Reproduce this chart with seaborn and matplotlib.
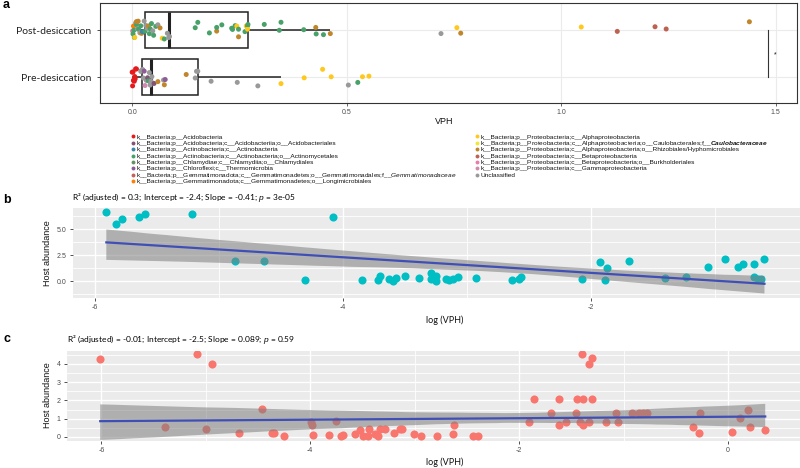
import numpy as np
import pandas as pd
import matplotlib
matplotlib.use("Agg")
import matplotlib.pyplot as plt
import seaborn as sns
from matplotlib.lines import Line2D
from matplotlib.collections import PolyCollection
from matplotlib.ticker import MultipleLocator, FormatStrFormatter

plt.rcParams['font.family'] = ['Liberation Sans', 'DejaVu Sans']
plt.rcParams['axes.unicode_minus'] = False
plt.rcParams['mathtext.fontset'] = 'custom'
plt.rcParams['mathtext.rm'] = 'Liberation Sans'
plt.rcParams['mathtext.it'] = 'Liberation Sans:italic'
plt.rcParams['mathtext.bf'] = 'Liberation Sans:italic:bold'

# ---------------- data ----------------
taxa = [
    "k__Bacteria;p__Acidobacteria",
    "k__Bacteria;p__Acidobacteria;c__Acidobacteriia;o__Acidobacteriales",
    "k__Bacteria;p__Actinobacteria;c__Actinobacteria",
    "k__Bacteria;p__Actinobacteria;c__Actinobacteria;o__Actinomycetales",
    "k__Bacteria;p__Chlamydiae;c__Chlamydiia;o__Chlamydiales",
    "k__Bacteria;p__Chloroflexi;c__Thermomicrobia",
    "k__Bacteria;p__Gemmatimonadota;c__Gemmatimonadetes;o__Gemmatimonadales;f__$\\it{Gemmatimonadaceae}$",
    "k__Bacteria;p__Gemmatimonadota;c__Gemmatimonadetes;o__Longimicrobiales",
    "k__Bacteria;p__Proteobacteria;c__Alphaproteobacteria",
    "k__Bacteria;p__Proteobacteria;c__Alphaproteobacteria;o__Caulobacterales;f__$\\bf{Caulobacteraceae}$",
    "k__Bacteria;p__Proteobacteria;c__Alphaproteobacteria;o__Rhizobiales/Hyphomicrobiales",
    "k__Bacteria;p__Proteobacteria;c__Betaproteobacteria",
    "k__Bacteria;p__Proteobacteria;c__Betaproteobacteria;o__Burkholderiales",
    "k__Bacteria;p__Proteobacteria;c__Gammaproteobacteria",
    "Unclassified",
]
taxa_colors = ["#E41A1C", "#815375", "#3A85A8", "#47A169", "#639363", "#8D5C96",
               "#C4635D", "#FF7F00", "#FFC81D", "#F2E731", "#C0862B", "#BD6253",
               "#EB7BAA", "#CF8BAF", "#999999"]

groups = ["Post-desiccation", "Pre-desiccation"]

post_vph = [0.001, 0.002, 0.003, 0.004, 0.005, 0.006, 0.008, 0.010, 0.010, 0.012, 0.014, 0.015,
            0.018, 0.020, 0.022, 0.024,
            0.028, 0.030, 0.032, 0.035, 0.038, 0.040, 0.042, 0.045, 0.048, 0.050, 0.055, 0.060,
            0.065, 0.070, 0.075, 0.082, 0.085, 0.087,
            0.147, 0.153, 0.180, 0.197, 0.197, 0.209, 0.232, 0.234, 0.240, 0.244, 0.248, 0.248,
            0.263, 0.266, 0.269, 0.269, 0.270,
            0.308, 0.343, 0.347, 0.400, 0.428, 0.429, 0.446, 0.462, 0.720, 0.757, 0.766, 1.047,
            1.131, 1.219, 1.245, 1.439]
post_taxon = [12, 3, 7, 3, 3, 8, 14, 3, 10, 14, 10, 3,
              14, 3, 10, 2,
              14, 3, 14, 14, 10, 3, 3, 3, 14, 3, 3, 14,
              10, 8, 3, 14, 14, 14,
              3, 3, 3, 10, 3, 3, 3, 3, 3, 8, 3, 10,
              3, 8, 3, 8, 3,
              3, 3, 3, 3, 10, 3, 3, 10, 14, 8, 10, 8,
              11, 11, 11, 10]

pre_vph = [0.000, 0.001, 0.002, 0.003, 0.004, 0.005, 0.006, 0.007, 0.008, 0.010,
           0.020, 0.022, 0.024, 0.025, 0.026, 0.028, 0.030, 0.033, 0.036, 0.038, 0.040, 0.042,
           0.043, 0.044,
           0.046, 0.051, 0.060, 0.073, 0.075, 0.077, 0.126, 0.147, 0.150, 0.153,
           0.184, 0.245, 0.293, 0.347, 0.401, 0.444, 0.464, 0.504, 0.526, 0.537, 0.552]
pre_taxon = [0, 0, 0, 0, 0, 0, 0, 0, 0, 0,
             14, 14, 14, 14, 14, 5, 13, 14, 1, 3, 14, 14,
             14, 14,
             14, 1, 10, 14, 10, 5, 10, 14, 14, 14,
             14, 14, 14, 8, 8, 8, 8, 14, 3, 8, 8]

b_log_vph = [-5.911, -5.831, -5.782, -5.651, -5.599, -5.220, -4.871, -4.635, -4.306, -4.083,
             -3.850, -3.720, -3.700, -3.627, -3.600, -3.573, -3.500, -3.385, -3.293, -3.293,
             -3.250, -3.250, -3.169, -3.143, -3.115, -3.070, -2.927, -2.635, -2.577, -2.566,
             -2.070, -1.922, -1.881, -1.865, -1.690, -1.403, -1.228, -1.056, -0.914, -0.812,
             -0.772, -0.685, -0.597, -0.685, -0.650, -0.624]
b_host = [6.60, 5.45, 5.99, 6.15, 6.41, 6.41, 1.92, 1.92, 0.10, 6.15,
          0.10, 0.10, 0.48, 0.19, 0.03, 0.26, 0.48, 0.29, 0.80, 0.22,
          0.48, 0.03, 0.16, 0.10, 0.22, 0.35, 0.26, 0.13, 0.19, 0.35,
          0.16, 1.83, 0.10, 1.22, 1.96, 0.29, 0.42, 1.31, 2.11, 1.31,
          1.63, 1.63, 2.11, 0.42, 0.16, 0.16]

c_log_vph = [-6.012, -5.086, -4.937, -5.390, -4.997, -4.681, -4.458, -4.368, -4.346, -4.247,
             -3.991, -3.979, -3.975, -3.822, -3.758, -3.707, -3.688, -3.570, -3.522, -3.496,
             -3.448, -3.436, -3.378, -3.347, -3.330, -3.283, -3.194, -3.140, -3.123, -3.011,
             -2.941, -2.782, -2.638, -2.628, -2.443, -2.398, -1.903, -1.858, -1.699, -1.616,
             -1.616, -1.552, -1.453, -1.443, -1.393, -1.402, -1.306, -1.328, -1.306, -1.421,
             -1.389, -1.328, -1.172, -1.070, -1.054, -0.920, -0.853, -0.815, -0.776, -0.335,
             -0.282, -0.272, 0.038, 0.111, 0.192, 0.207, 0.357]
c_host = [4.27, 4.55, 4.02, 0.55, 0.44, 0.20, 1.51, 0.20, 0.20, 0.03,
          0.80, 0.67, 0.13, 0.13, 0.86, 0.03, 0.13, 0.18, 0.40, 0.03,
          0.03, 0.44, 0.14, 0.07, 0.44, 0.44, 0.20, 0.44, 0.44, 0.18,
          0.05, 0.07, 0.14, 0.66, 0.07, 0.07, 0.82, 2.06, 1.33, 2.06,
          0.66, 0.82, 1.33, 2.06, 2.06, 4.55, 4.35, 4.02, 2.06, 0.82,
          0.66, 0.82, 0.82, 1.31, 0.82, 1.31, 1.31, 1.31, 1.31, 0.53,
          0.22, 1.33, 0.25, 1.02, 1.48, 0.55, 0.36]

b_title = "R² (adjusted) = 0.3; Intercept = -2.4; Slope = -0.41; $\\it{p}$ = 3e-05"
c_title = "R² (adjusted) = -0.01; Intercept = -2.5; Slope = 0.089; $\\it{p}$ = 0.59"

# ---------------- frames ----------------
dfa = pd.DataFrame({
    "VPH": post_vph + pre_vph,
    "group": [groups[0]] * len(post_vph) + [groups[1]] * len(pre_vph),
    "taxon": [taxa[i] for i in post_taxon] + [taxa[i] for i in pre_taxon],
})
pal = dict(zip(taxa, taxa_colors))
dfb = pd.DataFrame({"log (VPH)": b_log_vph, "Host abundance": b_host})
dfc = pd.DataFrame({"log (VPH)": c_log_vph, "Host abundance": c_host})

W, H = 800, 468
fig = plt.figure(figsize=(8, 4.68), dpi=100)

def box(l, t, r, b):
    return [l / W, 1 - b / H, (r - l) / W, (b - t) / H]

def fx(x):
    return x / W

def fy(y):
    return 1 - y / H

axis_grey = "#4D4D4D"

# ---------------- panel a ----------------
axa = fig.add_axes(box(100, 3, 797, 103))
axa.set_axisbelow(True)
sns.boxplot(data=dfa, x="VPH", y="group", order=groups, ax=axa, showfliers=False,
            width=0.75, color="white", linecolor="#222222", linewidth=1.1, showcaps=False,
            medianprops=dict(linewidth=2.2, color="#222222"))
np.random.seed(3)
sns.stripplot(data=dfa, x="VPH", y="group", order=groups, hue="taxon", hue_order=taxa,
              palette=pal, jitter=0.2, size=3.6, linewidth=0, ax=axa, legend=False, zorder=3)
axa.set_xlim(-0.075, 1.55)
axa.set_ylim(1.553, -0.575)
axa.set_xticks([0, 0.5, 1.0, 1.5])
axa.xaxis.set_major_formatter(FormatStrFormatter("%.1f"))
axa.grid(True, color="#EBEBEB", lw=0.8)
for s in axa.spines.values():
    s.set_color("#333333")
    s.set_linewidth(0.8)
axa.tick_params(axis="x", labelsize=5, colors=axis_grey, length=2.5, width=0.6, pad=2)
axa.tick_params(axis="y", labelsize=7.5, length=2.5, width=0.6, colors="#333333",
                labelcolor="#222222", pad=4)
for t in axa.get_yticklabels():
    t.set_family(["Lato", "DejaVu Sans"])
axa.set_xlabel("")
axa.set_ylabel("")
fig.text(fx(444), fy(121.5), "VPH", ha="center", va="center", fontsize=6.5, color="#111111")
# significance bracket
axa.plot([1.482, 1.482], [0, 1], color="#333333", lw=0.8)
axa.text(1.499, 0.52, "*", ha="center", va="center", fontsize=5, color="#111111")

# legend: two columns with fixed row pitch
row0, pitch = 136.4, 6.38
for i, (lab, col) in enumerate(zip(taxa, taxa_colors)):
    colx = 133 if i < 8 else 477
    r = i if i < 8 else i - 8
    yy = row0 + r * pitch
    fig.add_artist(Line2D([fx(colx)], [fy(yy)], marker="o", ls="", color=col,
                          markersize=2.8, markeredgewidth=0, transform=fig.transFigure))
    fig.text(fx(colx + 3.2), fy(yy + 2.1), lab, ha="left", va="baseline", fontsize=4.65,
             color="#111111")

# ---------------- panels b, c ----------------
def style_gg(ax):
    ax.set_facecolor("#EBEBEB")
    ax.set_axisbelow(True)
    ax.grid(True, which="major", color="white", lw=1.0)
    ax.grid(True, which="minor", color="white", lw=0.6)
    for s in ax.spines.values():
        s.set_visible(False)
    ax.tick_params(which="major", labelsize=5, colors="#333333", labelcolor=axis_grey,
                   length=2.5, width=0.6, pad=2)
    ax.tick_params(which="minor", length=0)
    ax.set_xlabel("")
    ax.set_ylabel("")

def band_grey(ax):
    for coll in ax.collections:
        if isinstance(coll, PolyCollection):
            coll.set_facecolor("#7F7F7F")
            coll.set_alpha(0.55)
            coll.set_edgecolor("none")

axb = fig.add_axes(box(73, 208, 800, 298))
sns.regplot(data=dfb, x="log (VPH)", y="Host abundance", ax=axb, ci=95, seed=1,
            scatter_kws=dict(s=34, color="#00BFC4", linewidths=0, alpha=1),
            line_kws=dict(color="#3F4FB5", lw=1.6))
band_grey(axb)
axb.set_xlim(-6.18, -0.31)
axb.set_ylim(-1.63, 7.02)
axb.xaxis.set_major_locator(MultipleLocator(2))
axb.xaxis.set_minor_locator(MultipleLocator(1))
axb.yaxis.set_major_locator(MultipleLocator(2.5))
axb.yaxis.set_minor_locator(MultipleLocator(1.25))
axb.yaxis.set_major_formatter(FormatStrFormatter("%.1f"))
axb.xaxis.set_major_formatter(FormatStrFormatter("%d"))
style_gg(axb)

axc = fig.add_axes(box(67, 351, 800, 441))
sns.regplot(data=dfc, x="log (VPH)", y="Host abundance", ax=axc, ci=95, seed=1,
            scatter_kws=dict(s=34, color="#F8766D", linewidths=0, alpha=1),
            line_kws=dict(color="#3F4FB5", lw=1.6))
band_grey(axc)
axc.set_xlim(-6.33, 0.69)
axc.set_ylim(-0.22, 4.71)
axc.xaxis.set_major_locator(MultipleLocator(2))
axc.xaxis.set_minor_locator(MultipleLocator(1))
axc.yaxis.set_major_locator(MultipleLocator(1))
axc.yaxis.set_minor_locator(MultipleLocator(0.5))
axc.xaxis.set_major_formatter(FormatStrFormatter("%d"))
axc.yaxis.set_major_formatter(FormatStrFormatter("%d"))
style_gg(axc)

# titles / labels
lato = ["Lato", "DejaVu Sans"]
fig.text(fx(72), fy(197), b_title, ha="left", va="center", fontsize=6.0, family=lato)
fig.text(fx(67), fy(340), c_title, ha="left", va="center", fontsize=6.0, family=lato)
for yc in (253, 395.5):
    fig.text(fx(48), fy(yc), "Host abundance", rotation=90, ha="center", va="center",
             fontsize=6.5, color="#111111")
for yc in (320, 462.7):
    fig.text(fx(444.5), fy(yc), "log (VPH)", ha="center", va="center", fontsize=6.5,
             family=lato, color="#111111")

# panel letters
fig.text(fx(3), fy(5), "a", fontsize=9, fontweight="bold", ha="left", va="center")
fig.text(fx(3), fy(200), "b", fontsize=9, fontweight="bold", ha="left", va="center")
fig.text(fx(3), fy(339), "c", fontsize=9, fontweight="bold", ha="left", va="center")

fig.savefig("out.png", dpi=100)
